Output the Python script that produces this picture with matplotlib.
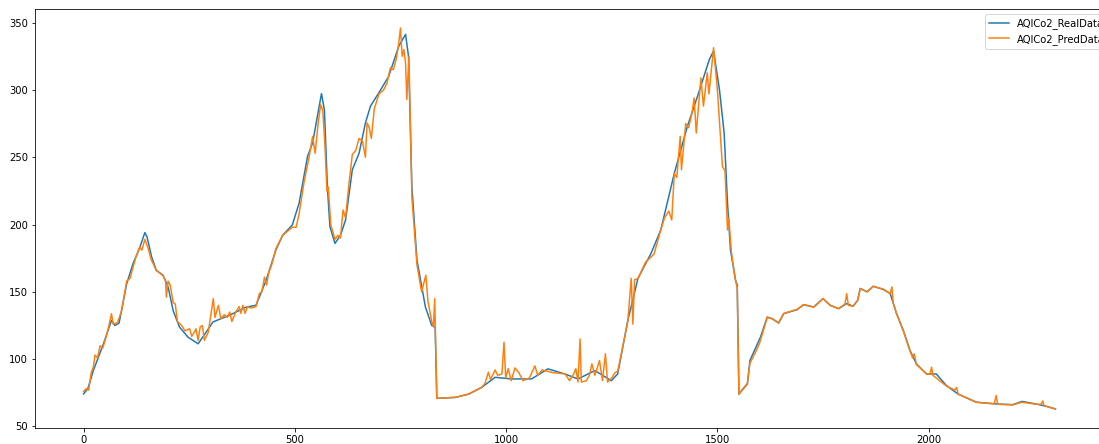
import matplotlib
matplotlib.use('Agg')
import matplotlib.pyplot as plt

# Real data (sample index, value)
real_idx = [0, 10, 23, 47, 66, 74, 84, 102, 117, 132, 145, 150, 161, 172, 188, 200, 212, 227, 247, 271,
            290, 306, 345, 385, 408, 432, 455, 471, 494, 510, 530, 542, 563, 570, 577, 583, 595, 608, 620, 636,
            652, 667, 679, 699, 722, 746, 762, 769, 777, 789, 809, 824, 832, 836, 880, 911, 942, 974, 1013, 1060,
            1099, 1139, 1170, 1210, 1249, 1264, 1288, 1312, 1343, 1366, 1398, 1429, 1453, 1481, 1491, 1505, 1516, 1524, 1531, 1543,
            1547, 1551, 1571, 1577, 1602, 1618, 1630, 1645, 1657, 1689, 1704, 1728, 1750, 1767, 1787, 1806, 1821, 1832, 1838, 1854,
            1869, 1893, 1909, 1924, 1940, 1956, 1971, 1995, 2018, 2042, 2070, 2113, 2160, 2199, 2221, 2254, 2278, 2300]
real_val = [74.2, 78, 91.5, 111.4, 128.8, 125, 126.8, 156, 171, 182, 194, 191, 176, 166, 162.4, 153.7, 136, 123.8, 116.4, 111.4,
            120, 127.6, 132.6, 138.7, 140, 158.6, 181, 192, 199.7, 215.8, 250.6, 260.6, 297.3, 285, 228, 198.4, 186, 192, 203.4, 240.7,
            253, 275.5, 288, 298, 310, 332.6, 341.3, 325, 228, 173.6, 138.7, 125, 123.8, 70.9, 71.6, 74, 79, 86.5, 85.3, 85.3,
            92.8, 89, 85.3, 91.5, 84, 89, 128.8, 160, 178.6, 196, 238, 273, 295.3, 322.7, 329, 300, 268, 215.8, 181, 158.6,
            155, 74, 81.6, 99, 116.4, 131.3, 130, 126.8, 133.8, 136.8, 140.5, 138.7, 145, 140, 137.5, 141.3, 139.3, 143.7, 152.5, 150,
            154.2, 151.7, 148.7, 133.8, 121.4, 106.4, 96.5, 89, 89, 80.4, 74, 68, 66.7, 66.2, 68.6, 66.7, 65, 63]

# Predicted data (sample index, value)
pred_idx = [0, 6, 12, 18, 23, 27, 33, 39, 45, 52, 60, 66, 70, 80, 90, 102, 110, 115, 124, 133,
            138, 145, 152, 160, 172, 188, 194, 196, 200, 205, 212, 217, 222, 232, 240, 251, 256, 262, 266, 271,
            276, 281, 286, 295, 307, 311, 319, 325, 333, 340, 346, 351, 360, 368, 372, 377, 382, 388, 396, 408,
            416, 422, 428, 433, 438, 445, 455, 471, 494, 503, 510, 522, 534, 542, 548, 555, 561, 566, 571, 576,
            579, 585, 595, 602, 608, 614, 620, 628, 636, 644, 652, 660, 667, 671, 676, 681, 688, 699, 710, 718,
            726, 733, 740, 746, 750, 754, 758, 762, 765, 770, 777, 789, 800, 810, 815, 824, 828, 831, 836, 880,
            911, 942, 950, 958, 963, 968, 974, 980, 990, 995, 999, 1005, 1012, 1021, 1030, 1040, 1055, 1068, 1075, 1085,
            1110, 1140, 1150, 1160, 1165, 1170, 1175, 1178, 1190, 1197, 1203, 1210, 1221, 1228, 1235, 1240, 1250, 1258, 1264, 1272,
            1288, 1296, 1300, 1304, 1312, 1330, 1340, 1350, 1366, 1375, 1385, 1392, 1398, 1404, 1412, 1415, 1425, 1432, 1440, 1445,
            1450, 1461, 1467, 1476, 1480, 1491, 1500, 1512, 1518, 1524, 1527, 1533, 1543, 1547, 1551, 1560, 1571, 1577, 1590, 1600,
            1618, 1630, 1645, 1657, 1689, 1704, 1728, 1750, 1767, 1787, 1802, 1806, 1810, 1821, 1832, 1838, 1854, 1869, 1893, 1909,
            1913, 1916, 1924, 1940, 1956, 1962, 1966, 1971, 1995, 2003, 2007, 2010, 2042, 2062, 2066, 2070, 2113, 2155, 2160, 2163,
            2199, 2221, 2254, 2266, 2270, 2273, 2300]
pred_val = [76, 78, 77, 90, 94, 103, 101, 110, 108, 115, 125, 133.8, 126, 127, 136, 158, 160, 166, 176, 183.5,
            181, 189, 183, 174, 166, 162, 158, 146, 158, 155, 142, 141, 128, 125, 121, 122.6, 117, 120, 122.6, 114,
            124, 125, 114, 120, 145, 131, 140, 130, 133, 131, 135, 128, 135, 139, 134, 140, 134, 139, 138, 139,
            148.7, 150, 161, 155, 164, 170, 182, 192, 198, 198, 208, 232, 250.6, 265.5, 253, 275, 289, 285, 260, 225,
            228, 200, 189, 192, 190, 210.8, 205, 230, 252, 255, 264, 262, 250, 275.5, 272, 264, 286, 297, 300, 305,
            316.5, 315, 323, 335, 346, 325, 330, 320, 293, 325, 220, 170, 150, 162.4, 143, 128, 124, 145, 70.9, 71.6,
            74, 79, 82, 90.3, 85, 88, 92, 88, 89, 112.6, 86, 93, 84, 93.5, 90, 84, 86, 95, 88, 92,
            90, 89, 84, 89, 93, 83, 115, 83, 84, 88, 96.5, 88, 99, 84, 104, 83, 86, 90, 91, 103,
            128, 160, 126, 159, 160, 172, 175, 178, 196, 205, 210, 203.4, 238, 235, 265.5, 240.7, 275, 272, 283, 294,
            268, 309, 288, 312.8, 297, 331.4, 300, 243, 240, 196, 205, 180, 158, 153, 74, 78, 82, 97, 105, 112,
            131, 130, 127, 134, 137, 140.5, 138.7, 145, 140, 137.5, 141, 148.7, 140, 139.3, 143.7, 152.5, 150, 154, 152, 148.7,
            153.7, 142, 134, 121, 106, 101, 104, 96, 89, 89, 94, 88, 80, 77, 79, 74, 68, 66.8, 73, 66.5,
            66, 68, 66.5, 66.5, 69, 65.5, 63]

fig = plt.figure(figsize=(1099 / 72, 444 / 72), dpi=72)
# axes runs past the right edge like the cropped original
ax = fig.add_axes([35 / 1099, 16 / 444, 1069 / 1099, 419 / 444])

ax.plot(real_idx, real_val, label='AQICo2_RealData')
ax.plot(pred_idx, pred_val, label='AQICo2_PredData')
ax.legend(loc='upper right', bbox_to_anchor=(1 + 10 / 1069, 1))

plt.savefig('out.png', dpi=72)
